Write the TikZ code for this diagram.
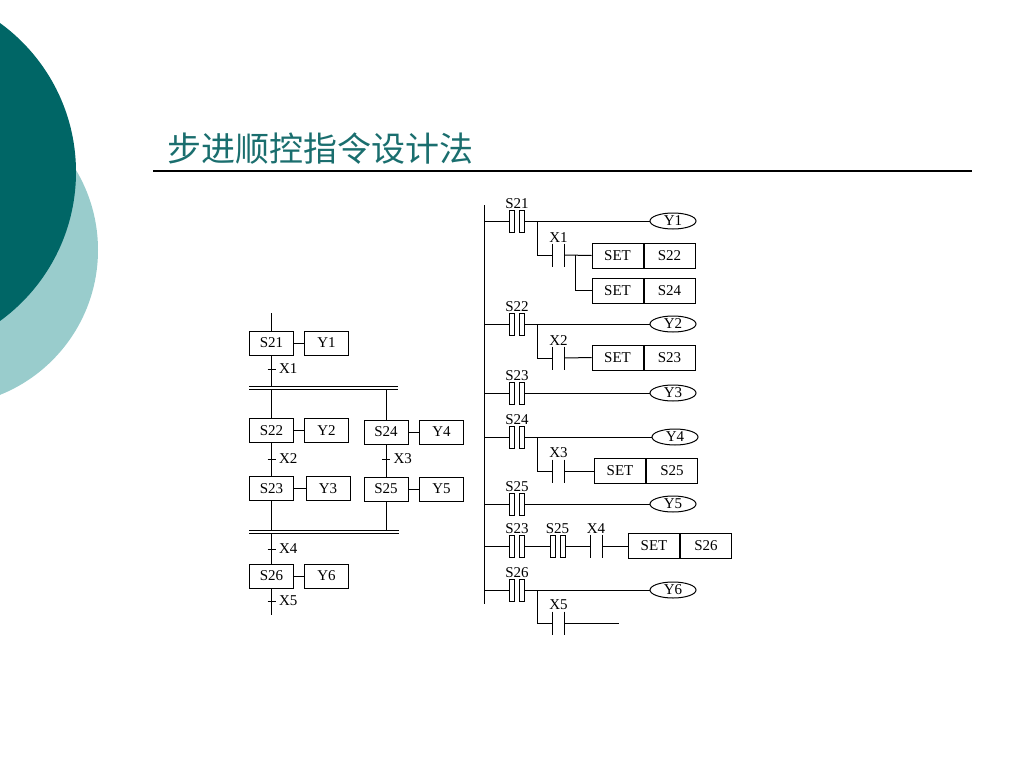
\documentclass[tikz,border=0pt]{standalone}
\usepackage{fontspec}
\setmainfont{Liberation Serif}
\newfontfamily\cjk{Noto Sans CJK SC}
\usepackage{tikz}
\usetikzlibrary{shapes.geometric}
\definecolor{darkteal}{RGB}{0,102,102}
\definecolor{lightteal}{RGB}{153,204,204}
\definecolor{titleteal}{RGB}{26,110,110}

% step contact (two narrow boxes), with its label above
\newcommand{\stlc}[3]{%
  \node[contact] (#1) at (#2) {};
  \draw (#1.north west) rectangle ([xshift=5pt]#1.south west);
  \draw ([xshift=-5pt]#1.north east) rectangle (#1.south east);
  \node[tag, anchor=south] at (#1.north) {#3};
}
% normally open contact
\newcommand{\noc}[3]{%
  \node[nocontact] (#1) at (#2) {};
  \draw (#1.north west) -- (#1.south west) (#1.north east) -- (#1.south east);
  \node[tag, anchor=south] at (#1.north) {#3};
}
% transition tick on a vertical line
\newcommand{\trans}[3]{%
  \coordinate (#1) at (#2);
  \draw ([xshift=-4pt]#1) -- ([xshift=4pt]#1);
  \node[tag, anchor=west] at ([xshift=6pt]#1) {#3};
}

\begin{document}
\begin{tikzpicture}[x=1pt, y=-1pt, line width=1pt,
    box/.style={draw, minimum width=44pt, minimum height=24pt, inner sep=0pt, font=\fontsize{15}{15}\selectfont},
    coil/.style={draw, ellipse, minimum width=46pt, minimum height=16pt, inner sep=0pt, font=\fontsize{15}{15}\selectfont},
    setbox/.style={draw, minimum width=51pt, minimum height=25pt, inner sep=0pt, font=\fontsize{15}{15}\selectfont},
    contact/.style={minimum width=14pt, minimum height=21pt, inner sep=0pt},
    nocontact/.style={minimum width=11pt, minimum height=22pt, inner sep=0pt},
    tag/.style={inner sep=1pt, font=\fontsize{15}{15}\selectfont}]
  \useasboundingbox (0,0) rectangle (1024,768);

  % background circles
  \begin{scope}
    \clip (0,0) rectangle (1024,768);
    \fill[lightteal] (-58,250) circle (156pt);
    \fill[darkteal] (-108,172) circle (184pt);
  \end{scope}

  % title
  \node[anchor=base west, inner sep=0pt, text=titleteal, font=\cjk\fontsize{34}{34}\selectfont] (title) at (167,161) {步进顺控指令设计法};
  \coordinate (ruleL) at (153,171);
  \coordinate (ruleR) at (972,171);
  \draw[line width=1.3pt] (ruleL) -- (ruleR);

  % SFC
  \coordinate (sfctop) at (271.5,313);
  \node[box] (s21) at (271.5,343) {S21};
  \node[box] (y1a) at (326.5,343) {Y1};
  \draw (sfctop) -- (s21.north);
  \draw (s21.east) -- (y1a.west);
  \trans{t1}{271.5,369}{X1}

  \coordinate (bar1a) at (249,386);
  \coordinate (bar1b) at (398,386);
  \coordinate (bar1c) at (249,389);
  \coordinate (bar1d) at (398,389);
  \draw (bar1a) -- (bar1b) (bar1c) -- (bar1d);
  \draw (s21.south) -- (s21.south |- bar1a);

  \node[box] (s22) at (271.5,430.5) {S22};
  \node[box] (y2a) at (326.5,430.5) {Y2};
  \node[box] (s24) at (386,432) {S24};
  \node[box] (y4a) at (441.5,432) {Y4};
  \draw (s22.north |- bar1c) -- (s22.north);
  \draw (s24.north |- bar1c) -- (s24.north);
  \draw (s22.east) -- (y2a.west);
  \draw (s24.east) -- (y4a.west);

  \node[box] (s23) at (271.5,488.5) {S23};
  \node[box] (y3a) at (328,488.5) {Y3};
  \node[box] (s25) at (386,489) {S25};
  \node[box] (y5a) at (441.5,489) {Y5};
  \draw (s22.south) -- (s23.north);
  \draw (s24.south) -- (s25.north);
  \draw (s23.east) -- (y3a.west);
  \draw (s25.east) -- (y5a.west);
  \trans{t2}{271.5,459}{X2}
  \trans{t3}{386,459}{X3}

  \coordinate (bar2a) at (249,530);
  \coordinate (bar2b) at (399,530);
  \coordinate (bar2c) at (249,533);
  \coordinate (bar2d) at (399,533);
  \draw (bar2a) -- (bar2b) (bar2c) -- (bar2d);
  \draw (s23.south) -- (s23.south |- bar2a);
  \draw (s25.south) -- (s25.south |- bar2a);

  \node[box] (s26) at (271.5,576) {S26};
  \node[box] (y6a) at (326.5,576) {Y6};
  \coordinate (sfcend) at (271.5,615);
  \draw (s26.north |- bar2c) -- (s26.north);
  \draw (s26.east) -- (y6a.west);
  \draw (s26.south) -- (sfcend);
  \trans{t4}{271.5,549}{X4}
  \trans{t5}{271.5,601}{X5}

  % ladder
  \coordinate (railtop) at (484,205);
  \coordinate (railbot) at (484,604);
  \draw (railtop) -- (railbot);

  % S21
  \stlc{c21}{517,221}{S21}
  \node[coil] (y1) at (673,221) {Y1};
  \draw (c21.west -| railtop) -- (c21.west);
  \draw (c21.east) -- (y1.west);
  \coordinate (b1) at (537,221);
  \noc{x1}{558.5,255}{X1}
  \node[setbox] (set22) at (617.5,255.5) {SET};
  \node[setbox, anchor=west] (n22) at (set22.east) {S22};
  \node[setbox] (set24) at (617.5,290.5) {SET};
  \node[setbox, anchor=west] (n24) at (set24.east) {S24};
  \draw (b1) |- (x1.west);
  \draw (x1.east) -- (set22.west);
  \coordinate (j1) at (575,255);
  \draw (j1) |- (set24.west);

  % S22
  \stlc{c22}{517,324}{S22}
  \node[coil] (y2) at (673,324) {Y2};
  \draw (c22.west -| railtop) -- (c22.west);
  \draw (c22.east) -- (y2.west);
  \coordinate (b2) at (537,324);
  \noc{x2}{558.5,358}{X2}
  \node[setbox] (set23) at (617.5,357.5) {SET};
  \node[setbox, anchor=west] (n23) at (set23.east) {S23};
  \draw (b2) |- (x2.west);
  \draw (x2.east) -- (set23.west);

  % S23
  \stlc{c23}{517,393}{S23}
  \node[coil] (y3) at (673,393) {Y3};
  \draw (c23.west -| railtop) -- (c23.west);
  \draw (c23.east) -- (y3.west);

  % S24
  \stlc{c24}{517,437}{S24}
  \node[coil] (y4) at (675,437) {Y4};
  \draw (c24.west -| railtop) -- (c24.west);
  \draw (c24.east) -- (y4.west);
  \coordinate (b4) at (537,437);
  \noc{x3}{558.5,471}{X3}
  \node[setbox] (set25) at (620,471) {SET};
  \node[setbox, anchor=west] (n25) at (set25.east) {S25};
  \draw (b4) |- (x3.west);
  \draw (x3.east) -- (set25.west);

  % S25
  \stlc{c25}{517,504}{S25}
  \node[coil] (y5) at (673,504) {Y5};
  \draw (c25.west -| railtop) -- (c25.west);
  \draw (c25.east) -- (y5.west);

  % S23 and S25 and X4
  \stlc{c23b}{517,546}{S23}
  \stlc{c25b}{557.5,546}{S25}
  \noc{x4}{596,546}{X4}
  \node[setbox] (set26) at (654,546) {SET};
  \node[setbox, anchor=west] (n26) at (set26.east) {S26};
  \draw (c23b.west -| railtop) -- (c23b.west);
  \draw (c23b.east) -- (c25b.west);
  \draw (c25b.east) -- (x4.west);
  \draw (x4.east) -- (set26.west);

  % S26
  \stlc{c26}{517,590}{S26}
  \node[coil] (y6) at (673,590) {Y6};
  \draw (c26.west -| railtop) -- (c26.west);
  \draw (c26.east) -- (y6.west);
  \coordinate (b7) at (537,590);
  \noc{x5}{558.5,623}{X5}
  \coordinate (x5end) at (619,623);
  \draw (b7) |- (x5.west);
  \draw (x5.east) -- (x5end);
\end{tikzpicture}
\end{document}
